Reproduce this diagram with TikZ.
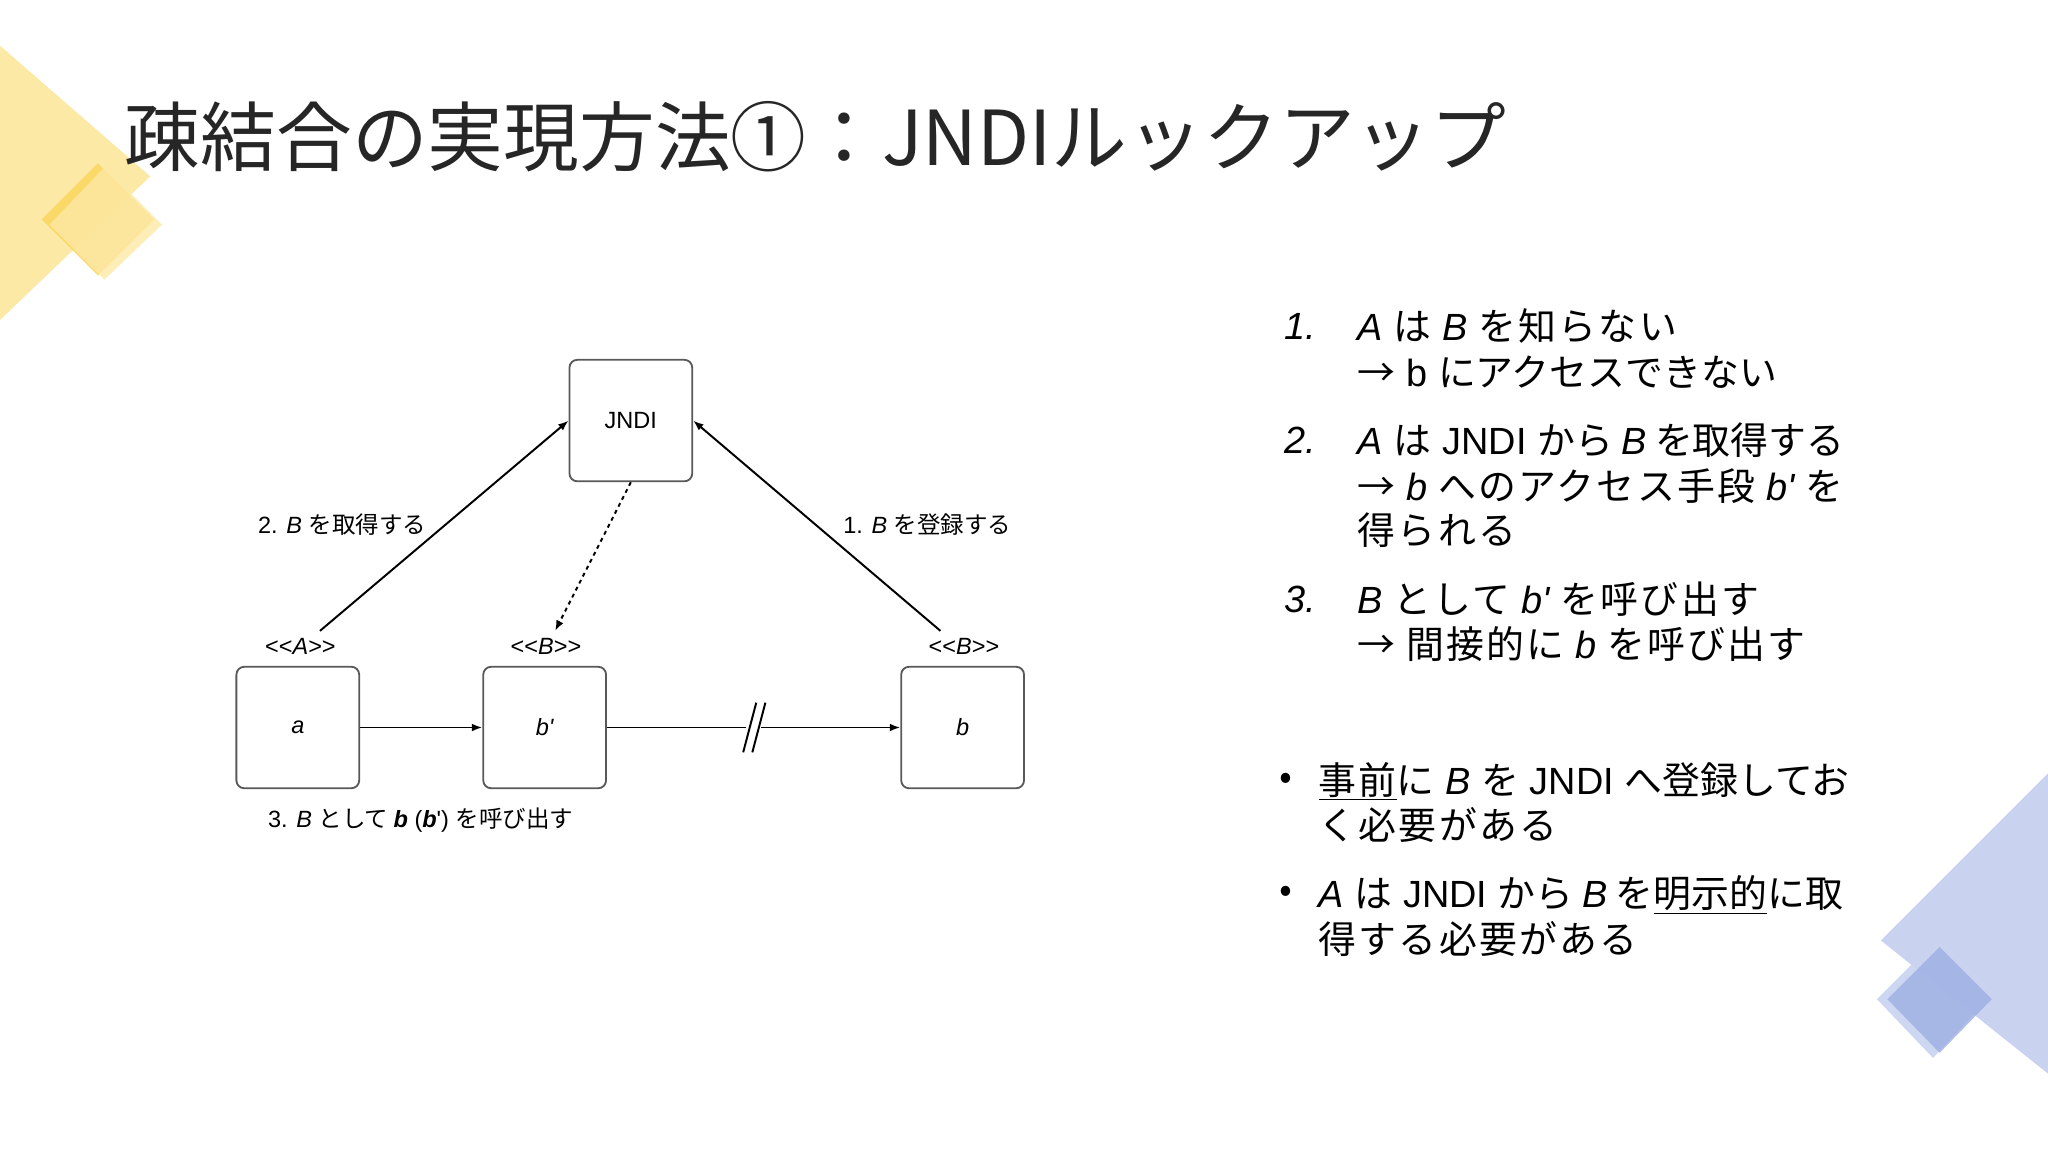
\documentclass[tikz,border=0pt]{standalone}
\usepackage{fontspec}
\setmainfont{Noto Sans CJK JP}
\newfontfamily\lsans{Liberation Sans}
\newcommand{\li}[1]{{\lsans\itshape #1}}
\usetikzlibrary{arrows.meta,calc}
\definecolor{yl}{HTML}{FDE9A6}
\definecolor{yd}{HTML}{FBD65A}
\definecolor{bl}{HTML}{C9D3F0}
\definecolor{bd}{HTML}{9DAEE3}
\begin{document}
\begin{tikzpicture}[x=1pt,y=-1pt,
 box/.style={draw=black!65,line width=1.4pt,rounded corners=6pt,minimum width=94pt,minimum height=93pt,inner sep=0},
 lab/.style={font=\fontsize{18}{21}\selectfont},
 arr/.style={-{Latex[length=8pt,width=6pt]},line width=1.5pt},
 rt/.style={anchor=west,font=\fontsize{29}{34}\selectfont\addfontfeatures{LetterSpace=6}}]
\useasboundingbox (0,0) rectangle (1568,882);
\fill[white] (0,0) rectangle (1568,882);
% decorations
\fill[yl] (0,35) -- (115,135) -- (0,245) -- cycle;
\fill[yd,opacity=.8] (75,125) -- (118,168) -- (75,211) -- (32,168) -- cycle;
\fill[yl,opacity=.8] (80,128) -- (124,172) -- (80,214) -- (38,172) -- cycle;
\fill[bl] (1568,592) -- (1440,720) -- (1568,822) -- cycle;
\fill[bl,opacity=.9] (1480,722) -- (1522,765) -- (1480,810) -- (1437,765) -- cycle;
\fill[bd,opacity=.8] (1485,725) -- (1525,765) -- (1485,806) -- (1445,765) -- cycle;
% title
\node[anchor=west,font=\fontsize{58}{64}\selectfont,text=black!85] (title) at (92,105) {疎結合の実現方法①：JNDIルックアップ};
% diagram
\node[box,lab] (jndi) at (483,322) {\lsans JNDI};
\node[box,lab] (a) at (228,557) {\li{a}};
\node[box,lab] (bp) at (417,557) {\li{b'}};
\node[box,lab] (b) at (737,557) {\li{b}};
\node[lab] (la) at (230,495) {\lsans<<\textit{A}>>};
\node[lab] (lbp) at (418,495) {\lsans<<\textit{B}>>};
\node[lab] (lb) at (738,495) {\lsans<<\textit{B}>>};
\node[lab] (t2) at (262,402) {\lsans 2. \textit{B} \rmfamily を取得する};
\node[lab] (t1) at (710,402) {\lsans 1. \textit{B} \rmfamily を登録する};
\node[lab] (t3) at (322,628) {\lsans 3. \textit{B} \rmfamily として \lsans\textbf{\textit{b}} (\textbf{\textit{b}}') \rmfamily を呼び出す};
\coordinate (aa) at (245,483);
\coordinate (ba) at (720,483);
\coordinate (da) at (425,483);
\draw[arr] (aa) -- (jndi.west);
\draw[arr] (ba) -- (jndi.east);
\draw[arr,dashed] (jndi.south) -- (da);
\draw[arr] (a) -- (bp);
\draw[arr] (bp) -- (b);
\coordinate (m) at (577,557);
\fill[white] ($(m)+(-6,-4)$) rectangle ($(m)+(6,4)$);
\draw[line width=1.5pt] (569,576) -- (579,538) (576,576) -- (586,538);
% right text
\node[rt] at (980,250) {\li{1.}};
\node[rt] at (1036,250) {\li{A} は \li{B} を知らない};
\node[rt] at (1036,285) {→ \lsans b \rmfamily にアクセスできない};
\node[rt] at (980,337) {\li{2.}};
\node[rt] at (1036,337) {\li{A} は \lsans JNDI \rmfamily から \li{B} を取得する};
\node[rt] at (1036,372) {→ \li{b} へのアクセス手段 \li{b'} を};
\node[rt] at (1036,406) {得られる};
\node[rt] at (980,459) {\li{3.}};
\node[rt] at (1036,459) {\li{B} として \li{b'} を呼び出す};
\node[rt] at (1036,493) {→ 間接的に \li{b} を呼び出す};
\node[rt] at (976,598) {•};
\node[rt] at (1006,598) {\underline{事前}に \li{B} を \lsans JNDI \rmfamily へ登録してお};
\node[rt] at (1006,632) {く必要がある};
\node[rt] at (976,685) {•};
\node[rt] at (1006,685) {\li{A} は \lsans JNDI \rmfamily から \li{B} を\underline{明示的}に取};
\node[rt] at (1006,719) {得する必要がある};
\end{tikzpicture}
\end{document}
